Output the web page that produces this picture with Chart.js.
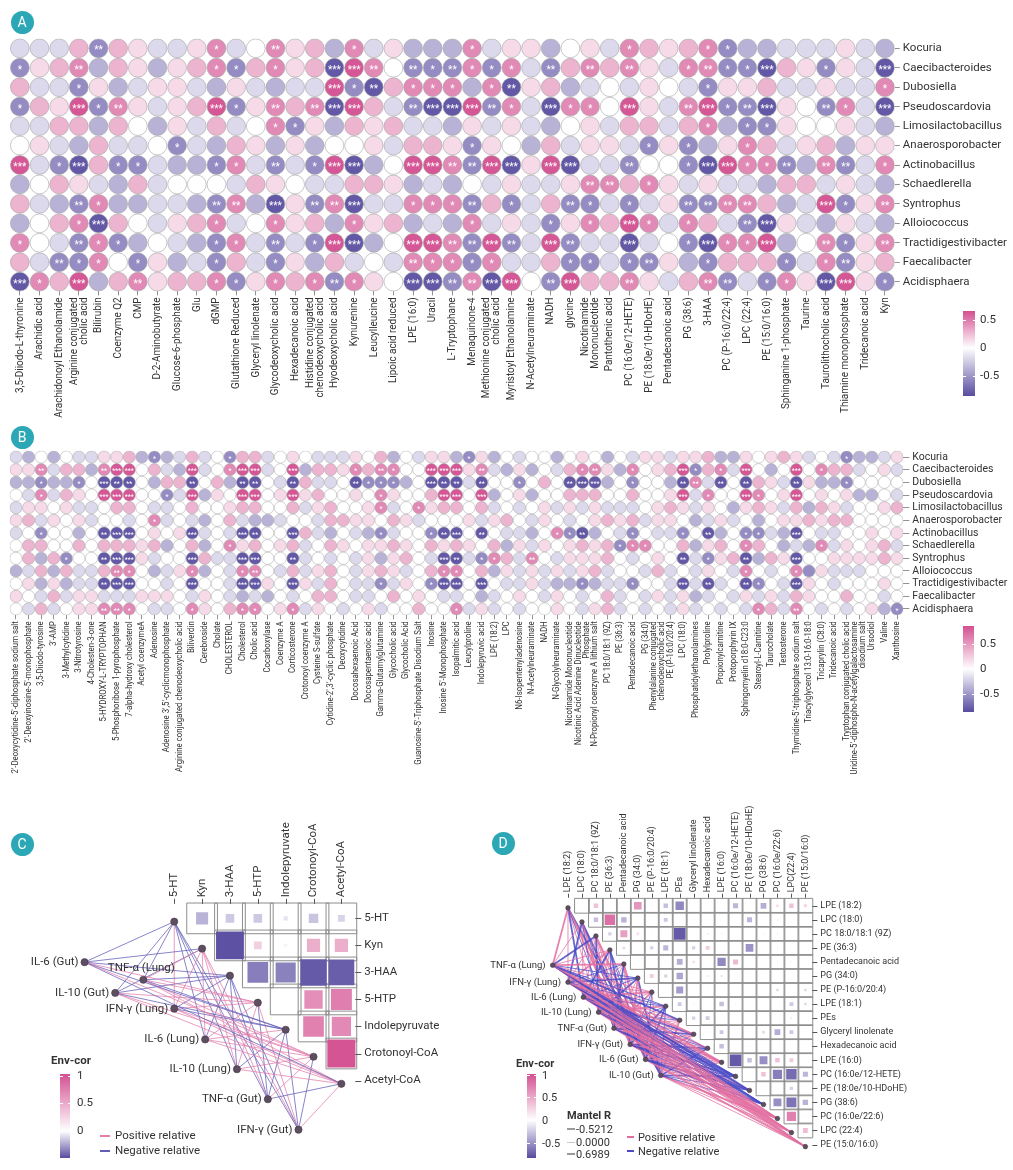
<!DOCTYPE html>
<html>
<head>
<meta charset="utf-8">
<title>Microbe and metabolite correlations</title>
<script src="https://cdn.jsdelivr.net/npm/chart.js@4.4.1/dist/chart.umd.min.js"></script>
<style>
  html, body { margin: 0; padding: 0; background: #fff; }
  #page { position: relative; width: 1013px; height: 1170px; overflow: hidden; font-family: Roboto, "Noto Sans", sans-serif; color: #333; }
  .wrap { position: absolute; }
  .wrap canvas { display: block; }
  .badge { position: absolute; width: 23px; height: 23px; margin: -11.5px 0 0 -11.5px; border-radius: 50%; background: #2ba7b6; color: #fff; font-size: 14px; line-height: 23px; text-align: center; }
  .lbl { position: absolute; white-space: nowrap; line-height: 1; color: #333; transform: translateY(-50%); }
</style>
</head>
<body>
<div id="page">
  <div class="wrap" style="left:0;top:0"><canvas id="chartA" width="1013" height="425"></canvas></div>
  <div class="wrap" style="left:0;top:430px"><canvas id="chartB" width="1013" height="375"></canvas></div>
  <div class="wrap" style="left:0;top:800px"><canvas id="chartC" width="490" height="370"></canvas></div>
  <div class="wrap" style="left:480px;top:790px"><canvas id="chartD" width="533" height="380"></canvas></div>
</div>
<script>
// ---------------- data ----------------
const bacteria = ['Kocuria', 'Caecibacteroides', 'Dubosiella', 'Pseudoscardovia', 'Limosilactobacillus',
  'Anaerosporobacter', 'Actinobacillus', 'Schaedlerella', 'Syntrophus', 'Alloiococcus',
  'Tractidigestivibacter', 'Faecalibacter', 'Acidisphaera'];

const metabolitesA = ['3,5-Diiodo-L-thyronine', 'Arachidic acid', 'Arachidonoyl Ethanolamide',
  ['Arginine conjugated', 'cholic acid'], 'Bilirubin', 'Coenzyme Q2', 'CMP', 'D-2-Aminobutyrate',
  'Glucose-6-phosphate', 'Glu', 'dGMP', 'Glutathione Reduced', 'Glyceryl linolenate',
  'Glycodeoxycholic acid', 'Hexadecanoic acid', ['Histidine conjugated', 'chenodeoxycholic acid'],
  'Hyodeoxycholic acid', 'Kynurenine', 'Leucylleucine', 'Lipoic acid reduced', 'LPE (16:0)', 'Uracil',
  'L-Tryptophane', 'Menaquinone-4', ['Methionine conjugated', 'cholic acid'], 'Myristoyl Ethanolamine',
  'N-Acetylneuraminate', 'NADH', 'glycine', ['Nicotinamide', 'Mononucleotide'], 'Pantothenic acid',
  'PC (16:0e/12-HETE)', 'PE (18:0e/10-HDoHE)', 'Pentadecanoic acid', 'PG (38:6)', '3-HAA',
  'PC (P-16:0/22:4)', 'LPC (22:4)', 'PE (15:0/16:0)', 'Sphinganine 1-phosphate', 'Taurine',
  'Taurolithocholic acid', 'Thiamine monophosphate', 'Tridecanoic acid', 'Kyn'];

const metabolitesB = ["2'-Deoxycytidine-5'-diphosphate sodium salt", "2'-Deoxyinosine-5'-monophosphate",
  '3,5-Diiodo-tyrosine', "3'-AMP", '3-Methylcytidine', '3-Nitrotyrosine', '4-Cholesten-3-one',
  '5-HYDROXY-L-TRYPTOPHAN', '5-Phosphoribose 1-pyrophosphate', '7-alpha-hydroxy cholesterol',
  'Acetyl coenzymeA', 'Adenosine', "Adenosine 3',5'-cyclicmonophosphate",
  'Arginine conjugated chenodeoxycholic acid', 'Biliverdin', 'Cerebroside', 'Cholate', 'CHOLESTEROL',
  'Cholesterol', 'Cholic acid', 'Cocarboxylase', 'Coenzyme A', 'Corticosterone', 'Crotonoyl coenzyme A',
  'Cysteine S-sulfate', "Cytidine-2',3'-cyclic phosphate", 'Deoxycytidine', 'Docosahexaenoic Acid',
  'Docosapentaenoic acid', 'Gamma-Glutamylglutamine', 'Glycocholic acid', 'Glycocholic Acid',
  "Guanosine-5'-Triphosphate Disodium Salt", 'Inosine', "Inosine 5'-Monophosphate", 'Isopalmitic acid',
  'Leucylproline', 'Indolepyruvic acid', 'LPE (18:2)', 'LPC', 'N6-Isopentenyladenosine',
  'N-Acetylneuraminate', 'NADH', 'N-Glycolylneuraminate', 'Nicotinamide Mononucleotide',
  ['Nicotinic Acid Adenine Dinucleotide', 'Phosphate'], 'N-Propionyl coenzyme A lithium salt',
  'PC 18:0/18:1 (9Z)', 'PE (36:3)', 'Pentadecanoic acid', 'PG (34:0)',
  ['Phenylalanine conjugated', 'chenodeoxycholic acid'], 'PE (P-16:0/20:4)', 'LPC (18:0)',
  'Phosphatidylethanolamines', 'Prolylproline', 'Propionylcarnitine', 'Protoporphyrin IX',
  'Sphingomyelin d18:0-C23:0', 'Stearoyl-L-Carnitine', 'Taurocholate', 'Testosterone',
  "Thymidine-5'-triphosphate sodium salt", 'Triacylglycerol 13:0-16:0-18:0', 'Tricaprylin (C8:0)',
  'Tridecanoic acid', 'Tryptophan conjugated cholic acid',
  ["Uridine-5'-diphospho-N-acetylgalactosamine", 'disodium salt'], 'Ursodiol', 'Valine', 'Xanthosine'];

const levelValues = [-0.7, -0.48, -0.32, -0.16, 0, 0.16, 0.32, 0.5, 0.72];

const corrA = [
  '33361653357347562735222' + '7355245376567122333532',
  '15672652567167560874111' + '7173167675377110651530',
  '63315235532532338106777' + '2705623435431556335337',
  '16581753568157670863100' + '8173077485378110541730',
  '33662642536347152656332' + '5353245366367211544532',
  '45326334132652524453665' + '1542635531512576356255',
  '83106113221731318024887' + '1805803314410877127137',
  '24653263444365433665232' + '4353357767535332663532',
  '63217223321720517033777' + '1613611313511776238157',
  '24670643567347562756232' + '7353157687376310532532',
  '74317124321731318024887' + '1813813303410778247157',
  '63117415231631526343777' + '1733611311521666137156',
  '07682675667157671754001' + '7084186675367131750851'
];
// number of significance stars per circle
const starsA = [
  '00002000001002000100000' + '1000000010001100000000',
  '10020000001101003320212' + '1110202020012113001003',
  '00010000000000003120111' + '0120000000001000000001',
  '10031200003102023300233' + '3210311030023123002103',
  '00000000000001100000000' + '0000000000001011000000',
  '00000000100000000000000' + '1000000001010010000000',
  '30130110001102013300332' + '2330330020013311202201',
  '00000000000000000000000' + '0000002201000000000000',
  '00021000002203022300111' + '2010021010022220003102',
  '00013000001001000100000' + '1000101031010023000000',
  '10021100001102013300332' + '2320320030013113002102',
  '00211010001001000000211' + '1100011012001000101200',
  '31030020001101012100332' + '2330230020002201103301'
];

const corrB = [
  '32424335562123634166345' + '433354624355' + '215243442454' + '2435535562254565' + '34312235',
  '55736627884632834788348' + '266576774488' + '857325243677' + '5274568167384248' + '47663453',
  '22122140004266046200430' + '633401112400' + '030441464000' + '2414420730406530' + '52214444',
  '43736548884413825488458' + '564454754468' + '848245244666' + '4464458374487458' + '45452243',
  '35545334664334644566446' + '356445734756' + '646343453535' + '3334565354256536' + '26534456',
  '56354534434734324632234' + '436655465344' + '453564354345' + '6563554235342455' + '65664444',
  '34144240004545034300440' + '632432134410' + '040433247102' + '4314331402411320' + '43344545',
  '46644646665624624756456' + '346545565465' + '654625354565' + '6177446256476423' + '27354563',
  '46261440005344063300440' + '343435256430' + '031763743555' + '6434540315602650' + '44555565',
  '23626336774235724377436' + '356435653467' + '746253535356' + '3443634354374347' + '15333444',
  '45252330004434044300540' + '536433135410' + '040433532212' + '3314430303401430' + '54344454',
  '54363553335554354323243' + '466433464543' + '342345435434' + '6343535234353536' + '54464434',
  '43634557774334754677457' + '354345344644' + '735343445435' + '6343435343437637' + '43434521'
];
const starsB = [
  '00000000000100000100000' + '000000000000' + '010000000000' + '0000000000000000' + '00010000',
  '00200002330000300133003' + '000010210033' + '302000000012' + '0010003101030003' + '01000000',
  '00100103220000200022002' + '000021110032' + '202001000233' + '0010002202020002' + '00010000',
  '00100003330010300033003' + '000000100003' + '303000000000' + '0000003010031003' + '00000000',
  '00000000000000000000000' + '000000100100' + '000000000000' + '0000000000000000' + '00000000',
  '00000000000100000000000' + '000000000000' + '000000000000' + '0000000000000000' + '00000000',
  '00100002330000300032003' + '000000100012' + '302000001120' + '0010001020011003' + '00000000',
  '00000000000000000100000' + '000000000000' + '000000000000' + '0111000000010000' + '01000000',
  '00001002330000300033002' + '000000000003' + '201100200000' + '0000002010020003' + '00000000',
  '00000000210000100012000' + '000000000001' + '100000000000' + '0000000000010001' + '00000000',
  '00000002330000300033003' + '000000100013' + '303000000010' + '0010003020021003' + '00000000',
  '00000000000000000000000' + '000000000000' + '000000000000' + '0000000000000000' + '00000000',
  '00000002210000100011001' + '000000000000' + '100000000000' + '0000000000001002' + '00000001'
];

// panel C: tryptophan metabolites, upper triangle (row i holds columns i+1 ..)
const tryptoMets = ['5-HT', 'Kyn', '3-HAA', '5-HTP', 'Indolepyruvate', 'Crotonoyl-CoA', 'Acetyl-CoA'];
const tryptoCor = [
  [-0.42, -0.30, -0.30, -0.15, -0.33, -0.24],
  [-0.97, 0.27, 0.10, 0.46, 0.46],
  [-0.72, -0.70, -0.92, -0.90],
  [0.04, 0.64, 0.73],
  [0.72, 0.67],
  [0.98]
];
const envC = ['IL-6 (Gut)', 'TNF-α (Lung)', 'IL-10 (Gut)', 'IFN-γ (Lung)', 'IL-6 (Lung)',
  'IL-10 (Lung)', 'TNF-α (Gut)', 'IFN-γ (Gut)'];
// link sign per env factor and metabolite: p positive, n negative (upper case = strong)
const mantelSignC = ['nnnpnpn', 'npnpnpp', 'nnnpnpp', 'ppnpnpp', 'npnpppp', 'npnpnpp', 'npnnnpn', 'npnpnnp'];

// panel D: lipids
const lipidMets = ['LPE (18:2)', 'LPC (18:0)', 'PC 18:0/18:1 (9Z)', 'PE (36:3)', 'Pentadecanoic acid',
  'PG (34:0)', 'PE (P-16:0/20:4)', 'LPE (18:1)', 'PEs', 'Glyceryl linolenate', 'Hexadecanoic acid',
  'LPE (16:0)', 'PC (16:0e/12-HETE)', 'PE (18:0e/10-HDoHE)', 'PG (38:6)', 'PC (16:0e/22:6)',
  'LPC (22:4)', 'PE (15:0/16:0)'];
const lipidTop = lipidMets.map(m => m === 'LPC (22:4)' ? 'LPC(22:4)' : m);
const lipidCor = [
  [0, 0.35, 0.02, 0, 0.6, 0.1, -0.35, -0.66, 0.05, 0.05, 0.03, -0.4, 0.02, -0.45, 0.2, 0.35, 0.25],
  [-0.35, 0.82, -0.42, 0, 0.05, -0.3, 0, -0.1, 0.1, 0.03, 0, -0.4, 0, -0.1, 0, 0],
  [-0.25, 0.55, 0.2, 0.1, 0.03, -0.92, 0.03, 0.15, -0.1, 0.05, 0, -0.1, -0.1, -0.05, 0.05],
  [-0.2, 0.03, -0.25, -0.4, 0, -0.25, 0.3, 0.03, 0, -0.6, 0.03, -0.1, 0, 0.03],
  [0, 0, 0.1, -0.45, 0.2, 0.03, -0.65, 0.4, 0, 0, -0.1, -0.1, 0.03],
  [0.3, -0.25, -0.5, 0, 0.15, -0.15, 0, 0.1, 0.05, 0.03, 0, 0.03],
  [0, -0.55, 0, -0.08, 0, 0.05, 0.05, 0, -0.2, 0.05, -0.2],
  [-0.3, -0.1, 0, -0.35, 0.1, 0, 0.05, 0, -0.3, -0.2],
  [-0.25, -0.3, 0, 0.05, 0.03, 0.03, 0, -0.12, 0],
  [0.03, -0.3, 0, 0.05, -0.2, -0.45, -0.3, 0.03],
  [-0.35, 0.05, -0.08, 0, 0.05, 0.03, 0],
  [-0.92, -0.35, -0.62, 0.35, 0.3, 0],
  [0, 0.35, -0.72, -0.82, -0.4],
  [0, 0, -0.25, 0.05],
  [-0.62, -0.78, -0.42],
  [0.72, 0.1],
  [0.38]
];
const envD = ['TNF-α (Lung)', 'IFN-γ (Lung)', 'IL-6 (Lung)', 'IL-10 (Lung)', 'TNF-α (Gut)',
  'IFN-γ (Gut)', 'IL-6 (Gut)', 'IL-10 (Gut)'];
const mantelSignD = [
  'PpNpPnpnNppPnNnppp',
  'pNpPnNpnpPnpNnnPpp',
  'NppNpnPnpNpPnnNpPp',
  'pnNppNpPnpnpNpnppP',
  'nPpnNpPnpNppnNnpPp',
  'PnpNpPnNppNpNnnPpp',
  'pNpnPpnNpPnpnNNppP',
  'NpPnpNpnPpNpNnnPpp'
];

// ---------------- helpers ----------------
Chart.defaults.font.family = 'Roboto, "Noto Sans", sans-serif';
Chart.defaults.color = '#333';

const NEG = [88, 76, 160], POS = [212, 80, 145];
function corColor(v, span) {
  const t = Math.min(1, Math.abs(v) / span);
  const end = v < 0 ? NEG : POS;
  return 'rgb(' + end.map(e => Math.round(255 + (e - 255) * t)).join(',') + ')';
}

[corrA, starsA].forEach(m => m.forEach((r, i) => { if (r.length !== metabolitesA.length) console.warn('A row', i, r.length); }));
[corrB, starsB].forEach(m => m.forEach((r, i) => { if (r.length !== metabolitesB.length) console.warn('B row', i, r.length); }));

function circleGrid(canvasId, cols, corr, stars, L) {
  const pts = [], fills = [], marks = [];
  corr.forEach((row, r) => {
    for (let c = 0; c < cols.length; c++) {
      pts.push({x: c + 1, y: r + 1});
      fills.push(corColor(levelValues[Number(row[c])], 0.75));
      marks.push('*'.repeat(Number(stars[r][c])));
    }
  });
  const starPlugin = {
    id: 'stars',
    afterDatasetsDraw(chart) {
      const ctx = chart.ctx;
      ctx.save();
      ctx.fillStyle = '#ffffff';
      ctx.font = L.starFont;
      ctx.textAlign = 'center';
      ctx.textBaseline = 'middle';
      chart.getDatasetMeta(0).data.forEach((el, i) => {
        if (marks[i]) ctx.fillText(marks[i], el.x, el.y + L.starDy);
      });
      ctx.restore();
    }
  };
  // rotated column names, multi-line names centred on their tick
  const xLabelPlugin = {
    id: 'xLabels',
    afterDraw(chart) {
      const {ctx} = chart, sx = chart.scales.x;
      const y0 = chart.chartArea.bottom + L.xTick + L.xPad;
      ctx.save();
      ctx.fillStyle = '#333';
      ctx.font = L.xFont + 'px Roboto, "Noto Sans", sans-serif';
      ctx.textAlign = 'right';
      ctx.textBaseline = 'middle';
      cols.forEach((lab, i) => {
        const lines = Array.isArray(lab) ? lab : [lab];
        const px = sx.getPixelForValue(i + 1);
        lines.forEach((t, k) => {
          ctx.save();
          ctx.translate(px + (k - (lines.length - 1) / 2) * L.xLine, y0);
          ctx.rotate(-Math.PI / 2);
          ctx.scale(L.xSquash, 1);
          ctx.fillText(t, 0, 0);
          ctx.restore();
        });
      });
      ctx.restore();
    }
  };
  const gridOpts = len => ({display: true, drawOnChartArea: false, drawTicks: true, tickLength: len, color: '#777', lineWidth: 0.8});
  return new Chart(document.getElementById(canvasId), {
    type: 'scatter',
    data: {datasets: [{data: pts, backgroundColor: fills, borderColor: '#a3a3a3', borderWidth: L.border,
      pointRadius: L.radius, pointHoverRadius: L.radius}]},
    options: {
      responsive: false, animation: false, events: [],
      layout: {padding: {left: L.left, top: L.top, right: 0, bottom: 0}},
      plugins: {legend: {display: false}, tooltip: {enabled: false}},
      scales: {
        x: {
          type: 'linear', position: 'bottom', min: 0.5, max: cols.length + 0.5,
          afterBuildTicks: ax => { ax.ticks = cols.map((_, i) => ({value: i + 1})); },
          afterFit: ax => { ax.height = L.xAxisH; },
          ticks: {autoSkip: false, minRotation: 90, maxRotation: 90, padding: L.xPad, callback: () => ''},
          grid: gridOpts(L.xTick), border: {display: false}
        },
        y: {
          type: 'linear', position: 'right', reverse: true, min: 0.5, max: bacteria.length + 0.5,
          afterBuildTicks: ax => { ax.ticks = bacteria.map((_, i) => ({value: i + 1})); },
          afterFit: ax => { ax.width = L.yAxisW; },
          ticks: {autoSkip: false, padding: L.yPad, color: '#333', font: {size: L.yFont},
            callback: (v, i) => bacteria[i]},
          grid: gridOpts(L.yTick), border: {display: false}
        }
      }
    },
    plugins: [starPlugin, xLabelPlugin]
  });
}

function networkChart(canvasId, N) {
  const boxes = [], squares = [], nodes = [];
  N.cor.forEach((row, i) => row.forEach((v, k) => {
    boxes.push({x: i + 1 + k, y: i});
    if (v !== 0) squares.push({x: i + 1 + k, y: i, v});
  }));
  N.mets.forEach((_, i) => nodes.push({x: i, y: i + N.nodeDy}));
  N.envSpots.forEach(p => nodes.push({x: p[0], y: p[1]}));

  const datasets = [];
  N.signs.forEach((row, k) => {
    const e = N.envSpots[k];
    row.split('').forEach((s, j) => {
      datasets.push({
        data: [{x: e[0], y: e[1]}, {x: j, y: j + N.nodeDy}],
        showLine: true, pointRadius: 0, pointHoverRadius: 0,
        borderColor: s.toLowerCase() === 'p' ? N.posLine : N.negLine,
        borderWidth: s === s.toUpperCase() ? N.thick : N.thin,
        order: 3
      });
    });
  });
  datasets.push({data: boxes, pointStyle: 'rect', pointRadius: N.cell / Math.SQRT2,
    backgroundColor: 'rgba(0,0,0,0)', borderColor: '#8e8e8e', borderWidth: 1, order: 2});
  datasets.push({data: squares, pointStyle: 'rect',
    pointRadius: c => c.raw ? Math.max(0.35, Math.abs(c.raw.v) * (N.cell - 2)) / Math.SQRT2 : 0,
    backgroundColor: c => c.raw ? corColor(c.raw.v, 1) : 'rgba(0,0,0,0)', borderWidth: 0, order: 1});
  datasets.push({data: nodes, pointStyle: 'circle', pointRadius: N.nodeR, backgroundColor: '#5d4e60',
    borderColor: '#45384a', borderWidth: 0.6, order: 0});

  const labelPlugin = {
    id: 'netLabels',
    afterDatasetsDraw(chart) {
      const {ctx} = chart, sx = chart.scales.x, sy = chart.scales.y;
      ctx.save();
      ctx.fillStyle = '#333';
      ctx.strokeStyle = '#555';
      ctx.lineWidth = 1;
      ctx.font = N.font;
      const top = sy.getPixelForValue(-0.5);
      N.topNames.forEach((m, j) => {
        const px = Math.round(sx.getPixelForValue(j)) + 0.5;
        ctx.beginPath(); ctx.moveTo(px, top - 1); ctx.lineTo(px, top - 1 - N.tick); ctx.stroke();
        ctx.save();
        ctx.translate(sx.getPixelForValue(j), top - N.tick - 2.5);
        ctx.rotate(-Math.PI / 2);
        ctx.textAlign = 'left'; ctx.textBaseline = 'middle';
        ctx.fillText(m, 0, 0);
        ctx.restore();
      });
      const right = sx.getPixelForValue(N.mets.length - 0.5);
      N.mets.forEach((m, i) => {
        const py = Math.round(sy.getPixelForValue(i)) + 0.5;
        ctx.beginPath(); ctx.moveTo(right, py); ctx.lineTo(right + N.tick + 1, py); ctx.stroke();
        ctx.textAlign = 'left'; ctx.textBaseline = 'middle';
        ctx.fillText(m, right + N.tick + 4, sy.getPixelForValue(i));
      });
      ctx.font = N.envFont;
      N.env.forEach((name, k) => {
        const px = sx.getPixelForValue(N.envSpots[k][0]), py = sy.getPixelForValue(N.envSpots[k][1]);
        if (N.labelAbove.includes(k)) {
          ctx.textAlign = 'center'; ctx.textBaseline = 'middle';
          ctx.fillText(name, px - 2, py - 12);
        } else {
          ctx.textAlign = 'right'; ctx.textBaseline = 'middle';
          ctx.fillText(name, px - N.envGap, py);
        }
      });
      ctx.restore();
    }
  };

  return new Chart(document.getElementById(canvasId), {
    type: 'scatter',
    data: {datasets},
    options: {
      responsive: false, animation: false, events: [],
      layout: {padding: 0},
      plugins: {legend: {display: false}, tooltip: {enabled: false}},
      scales: {
        x: {type: 'linear', display: false, min: N.xRange[0], max: N.xRange[1]},
        y: {type: 'linear', display: false, reverse: true, min: N.yRange[0], max: N.yRange[1]}
      }
    },
    plugins: [labelPlugin]
  });
}

// ---------------- charts ----------------
circleGrid('chartA', metabolitesA, corrA, starsA, {
  left: 9.7, top: 38.6, xAxisH: 133.6, yAxisW: 118.2, radius: 9.4, border: 0.6,
  xTick: 4, yTick: 5, xPad: 2, yPad: 3, xFont: 11, xLine: 10, xSquash: 0.9, yFont: 11.5,
  starFont: '10px Roboto', starDy: 2.5
});
circleGrid('chartB', metabolitesB, corrB, starsB, {
  left: 9.7, top: 20.7, xAxisH: 189.7, yAxisW: 109.7, radius: 6.1, border: 0.5,
  xTick: 4, yTick: 6, xPad: 2, yPad: 3, xFont: 9, xLine: 8, xSquash: 0.87, yFont: 10.5,
  starFont: '7px Roboto', starDy: 1.8
});
networkChart('chartC', {
  mets: tryptoMets, topNames: tryptoMets, cor: tryptoCor, env: envC, signs: mantelSignC,
  envSpots: [[-3.22, 1.62], [-1.11, 2.27], [-2.12, 2.76], [0, 3.34], [1.11, 4.48], [2.25, 5.58], [3.36, 6.69], [4.46, 7.82]],
  labelAbove: [1], envGap: 6, nodeDy: 0.12, nodeR: 3.6, cell: 30.7, tick: 5,
  posLine: 'rgba(226,128,172,0.9)', negLine: 'rgba(98,94,184,0.9)', thick: 1.4, thin: 0.85,
  font: '11.5px Roboto', envFont: '11.5px Roboto',
  xRange: [-5.44, 10.52], yRange: [-3.54, 8.47]
});
networkChart('chartD', {
  mets: lipidMets, topNames: lipidTop, cor: lipidCor, env: envD, signs: mantelSignD,
  envSpots: [[-1.1, 4.23], [0, 5.44], [1.1, 6.51], [2.19, 7.58], [3.29, 8.72], [4.45, 9.87], [5.55, 10.94], [6.64, 12.08]],
  labelAbove: [], envGap: 7, nodeDy: 0.15, nodeR: 2.3, cell: 14.75, tick: 4,
  posLine: 'rgba(226,110,160,0.85)', negLine: 'rgba(74,74,198,0.85)', thick: 1.8, thin: 0.9,
  font: '9px Roboto', envFont: '9.5px Roboto',
  xRange: [-5.483, 31.05], yRange: [-7.43, 18.0]
});

// ---------------- legends, colour bars, badges ----------------
const page = document.getElementById('page');
function place(cls, css, text) {
  const el = document.createElement('div');
  if (cls) el.className = cls;
  el.style.position = 'absolute';
  Object.assign(el.style, css);
  if (text != null) el.textContent = text;
  page.appendChild(el);
  return el;
}
function colorbar(s) {
  place('', {left: s.x + 'px', top: s.top + 'px', width: s.w + 'px', height: (s.bottom - s.top) + 'px',
    background: 'linear-gradient(to bottom, ' + corColor(1, 1) + ' 0%, #ffffff ' + s.zero + '%, ' + corColor(-1, 1) + ' 100%)'});
  s.labels.forEach(([t, y]) => {
    place('', {left: s.x + 'px', top: (y - 0.5) + 'px', width: '2.5px', height: '1px', background: '#fff'});
    place('', {left: (s.x + s.w - 2.5) + 'px', top: (y - 0.5) + 'px', width: '2.5px', height: '1px', background: '#fff'});
    place('lbl', {left: s.lx + 'px', top: y + 'px', fontSize: s.font + 'px'}, t);
  });
  if (s.title) place('lbl', {left: s.title[1] + 'px', top: s.title[2] + 'px', fontSize: s.font + 'px', fontWeight: 'bold'}, s.title[0]);
}
function legendLine(x1, x2, y, color, w) {
  place('', {left: x1 + 'px', top: (y - w / 2) + 'px', width: (x2 - x1) + 'px', height: w + 'px', background: color});
}

colorbar({x: 963, w: 12, top: 311, bottom: 396, zero: 43.5, lx: 980, font: 11.5,
  labels: [['0.5', 320], ['0', 348], ['-0.5', 376]]});
colorbar({x: 963, w: 11, top: 626, bottom: 712, zero: 50, lx: 980, font: 11.5,
  labels: [['0.5', 644], ['0', 669], ['-0.5', 694]]});
colorbar({x: 60, w: 10, top: 1074, bottom: 1158, zero: 68, lx: 77, font: 11.5,
  labels: [['1', 1076], ['0.5', 1103], ['0', 1131]], title: ['Env-cor', 51, 1061]});
colorbar({x: 527, w: 9, top: 1074, bottom: 1158, zero: 55, lx: 542, font: 11,
  labels: [['1', 1075], ['0.5', 1097], ['0', 1120], ['-0.5', 1143]], title: ['Env-cor', 516, 1063]});

legendLine(100, 110, 1136, 'rgba(226,128,172,1)', 1.2);
legendLine(100, 110, 1151, 'rgba(98,94,184,1)', 1.2);
place('lbl', {left: '115px', top: '1136px', fontSize: '11.5px'}, 'Positive relative');
place('lbl', {left: '115px', top: '1151px', fontSize: '11.5px'}, 'Negative relative');

legendLine(627, 634, 1137, 'rgba(226,110,160,1)', 1.2);
legendLine(627, 634, 1151, 'rgba(74,74,198,1)', 1.2);
place('lbl', {left: '638px', top: '1137px', fontSize: '11px'}, 'Positive relative');
place('lbl', {left: '638px', top: '1151px', fontSize: '11px'}, 'Negative relative');

place('lbl', {left: '567px', top: '1115px', fontSize: '11px', fontWeight: 'bold'}, 'Mantel R');
[['-0.5212', 1129, 2.6, '#9a9a9a'], ['0.0000', 1142, 0.9, '#c8c8c8'], ['0.6989', 1154, 2.6, '#9a9a9a']].forEach(([t, y, w, c]) => {
  legendLine(567, 575, y, c, w);
  place('lbl', {left: '576px', top: y + 'px', fontSize: '11px'}, t);
});

[['A', 22, 22], ['B', 22, 437], ['C', 22, 844], ['D', 503, 843]].forEach(([t, x, y]) => {
  place('badge', {left: x + 'px', top: y + 'px'}, t);
});
</script>
</body>
</html>
